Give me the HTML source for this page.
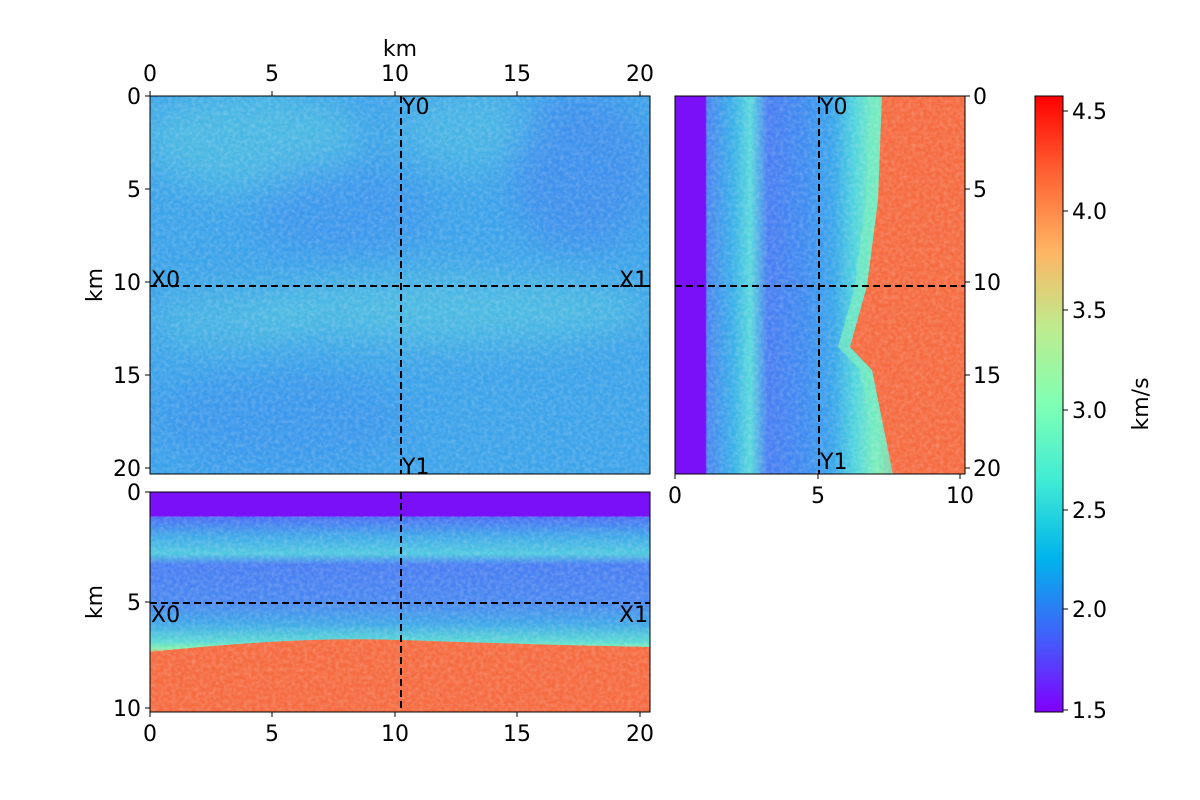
<!DOCTYPE html>
<html><head><meta charset="utf-8"><style>
body{margin:0;background:#fff;}
svg{display:block;font-family:"DejaVu Sans","Liberation Sans",sans-serif;}
</style></head><body>
<svg width="1200" height="800" viewBox="0 0 1200 800" xmlns="http://www.w3.org/2000/svg">
<defs>
<linearGradient id="cb" x1="0" y1="1" x2="0" y2="0">
<stop offset="0" stop-color="#8000ff"/><stop offset="0.125" stop-color="#4062fa"/>
<stop offset="0.25" stop-color="#00b4eb"/><stop offset="0.375" stop-color="#40ebd4"/>
<stop offset="0.5" stop-color="#80ffb4"/><stop offset="0.625" stop-color="#bfeb8e"/>
<stop offset="0.75" stop-color="#ffb462"/><stop offset="0.875" stop-color="#ff6232"/>
<stop offset="1" stop-color="#ff0000"/></linearGradient>
<linearGradient id="rg" x1="0" y1="0" x2="1" y2="0">
<stop offset="0" stop-color="#7a10f8"/><stop offset="0.105" stop-color="#7a10f8"/>
<stop offset="0.11" stop-color="#4a86ef"/><stop offset="0.2" stop-color="#3ab0e8"/>
<stop offset="0.26" stop-color="#5ad8dc"/><stop offset="0.32" stop-color="#4a7ef2"/>
<stop offset="0.45" stop-color="#3f8cf0"/><stop offset="0.55" stop-color="#3aa8ea"/>
<stop offset="0.62" stop-color="#50d4dc"/><stop offset="0.7" stop-color="#80f0b8"/>
<stop offset="0.75" stop-color="#f87a48"/><stop offset="1" stop-color="#f56a40"/></linearGradient>
<linearGradient id="bg" x1="0" y1="0" x2="0" y2="1">
<stop offset="0" stop-color="#7a10f8"/><stop offset="0.108" stop-color="#7a10f8"/>
<stop offset="0.115" stop-color="#4a70f5"/><stop offset="0.2" stop-color="#40a8e8"/>
<stop offset="0.28" stop-color="#50c8e0"/><stop offset="0.33" stop-color="#4a7ef2"/>
<stop offset="0.5" stop-color="#4a88f0"/><stop offset="0.6" stop-color="#40a8e8"/>
<stop offset="0.68" stop-color="#5ad8d4"/><stop offset="0.71" stop-color="#80f0b0"/>
<stop offset="0.74" stop-color="#f88050"/><stop offset="1" stop-color="#f45a38"/></linearGradient>
<filter id="nz"><feTurbulence type="fractalNoise" baseFrequency="0.25" numOctaves="2" seed="3"/><feColorMatrix values="0 0 0 0 1  0 0 0 0 1  0 0 0 0 1  0 0 0 0.35 -0.12"/><feComposite in2="SourceGraphic" operator="in"/></filter>
<filter id="bl" x="-50%" y="-50%" width="200%" height="200%"><feGaussianBlur stdDeviation="18"/></filter>
<clipPath id="c1"><rect x="150" y="96" width="500" height="378"/></clipPath>
</defs>
<rect x="150" y="96" width="500" height="378" fill="#3ea4ea"/>
<g clip-path="url(#c1)" filter="url(#bl)">
<ellipse cx="250" cy="140" rx="110" ry="50" fill="#55c6e0" opacity="0.6"/>
<ellipse cx="470" cy="130" rx="70" ry="40" fill="#55c8e0" opacity="0.5"/>
<ellipse cx="450" cy="310" rx="200" ry="35" fill="#58cade" opacity="0.6"/>
<ellipse cx="230" cy="320" rx="80" ry="30" fill="#58c8de" opacity="0.5"/>
<ellipse cx="580" cy="170" rx="70" ry="80" fill="#3f80f0" opacity="0.5"/>
<ellipse cx="340" cy="210" rx="90" ry="50" fill="#3f88f0" opacity="0.4"/>
<ellipse cx="280" cy="420" rx="130" ry="50" fill="#3f88f0" opacity="0.35"/>
</g>
<rect x="150" y="96" width="500" height="378" fill="#fff" filter="url(#nz)"/>
<rect x="150" y="96" width="500" height="378" fill="none" stroke="#000" stroke-width="1"/>
<line x1="401" y1="96" x2="401" y2="474" stroke="#000" stroke-width="2" stroke-dasharray="7,4"/>
<line x1="150" y1="286" x2="650" y2="286" stroke="#000" stroke-width="2" stroke-dasharray="7,4"/>
<g font-size="22" fill="#000">
<text x="402" y="114">Y0</text><text x="402" y="474">Y1</text>
<text x="151" y="287">X0</text><text x="619" y="287">X1</text>
</g>
<rect x="675" y="96" width="290" height="378" fill="url(#rg)"/>
<path d="M870 96 L866 200 L855 286 L838 347 L860 370 L881 474 L893 474 L872 370 L850 347 L867 286 L878 200 L882 96Z" fill="#70e8c0" opacity="0.8"/>
<path d="M882 96 L878 200 L867 286 L850 347 L872 370 L893 474 L965 474 L965 96Z" fill="#f56c42"/>
<rect x="706" y="96" width="259" height="378" fill="#fff" filter="url(#nz)"/>
<rect x="675" y="96" width="290" height="378" fill="none" stroke="#000"/>
<line x1="819" y1="96" x2="819" y2="474" stroke="#000" stroke-width="2" stroke-dasharray="7,4"/>
<line x1="675" y1="286" x2="965" y2="286" stroke="#000" stroke-width="2" stroke-dasharray="7,4"/>
<g font-size="22"><text x="820" y="114">Y0</text><text x="820" y="469">Y1</text></g>
<rect x="150" y="492" width="500" height="220" fill="url(#bg)"/>
<path d="M150 652 Q300 636 400 640 Q550 645 650 647 L650 712 L150 712Z" fill="#f56c42"/>
<rect x="150" y="516" width="500" height="196" fill="#fff" filter="url(#nz)"/>
<rect x="150" y="492" width="500" height="220" fill="none" stroke="#000"/>
<line x1="401" y1="492" x2="401" y2="712" stroke="#000" stroke-width="2" stroke-dasharray="7,4"/>
<line x1="150" y1="603" x2="650" y2="603" stroke="#000" stroke-width="2" stroke-dasharray="7,4"/>
<g font-size="22"><text x="151" y="622">X0</text><text x="619" y="622">X1</text></g>
<rect x="1035" y="96" width="28" height="616" fill="url(#cb)" stroke="#000"/>
<g stroke="#000" stroke-width="1">
<path d="M150 96v-5M272 96v-5M395 96v-5M517 96v-5M640 96v-5"/>
<path d="M150 96h-5M150 189h-5M150 282h-5M150 375h-5M150 468h-5"/>
<path d="M965 96h5M965 189h5M965 282h5M965 375h5M965 468h5"/>
<path d="M675 474v5M818 474v5M960 474v5"/>
<path d="M150 492h-5M150 602h-5M150 708h-5"/>
<path d="M150 712v5M272 712v5M395 712v5M517 712v5M640 712v5"/>
<path d="M1063 710h5M1063 609h5M1063 510h5M1063 410h5M1063 310h5M1063 211h5M1063 111h5"/>
</g>
<g font-size="22" fill="#000">
<g text-anchor="middle">
<text x="150" y="81">0</text><text x="272" y="81">5</text><text x="395" y="81">10</text><text x="517" y="81">15</text><text x="640" y="81">20</text>
<text x="400" y="56">km</text>
<text x="675" y="503">0</text><text x="818" y="503">5</text><text x="960" y="503">10</text>
<text x="150" y="741">0</text><text x="272" y="741">5</text><text x="395" y="741">10</text><text x="517" y="741">15</text><text x="640" y="741">20</text>
</g>
<g text-anchor="end">
<text x="141" y="104">0</text><text x="141" y="197">5</text><text x="141" y="290">10</text><text x="141" y="383">15</text><text x="141" y="476">20</text>
<text x="141" y="500">0</text><text x="141" y="610">5</text><text x="141" y="716">10</text>
</g>
<text x="973" y="104">0</text><text x="973" y="197">5</text><text x="973" y="290">10</text><text x="973" y="383">15</text><text x="973" y="476">20</text>
<text x="1072" y="718">1.5</text><text x="1072" y="617">2.0</text><text x="1072" y="518">2.5</text><text x="1072" y="418">3.0</text><text x="1072" y="318">3.5</text><text x="1072" y="219">4.0</text><text x="1072" y="119">4.5</text>
<text transform="translate(102,285) rotate(-90)" text-anchor="middle">km</text>
<text transform="translate(102,602) rotate(-90)" text-anchor="middle">km</text>
<text transform="translate(1148,404) rotate(-90)" text-anchor="middle">km/s</text>
</g>
</svg>
</body></html>
